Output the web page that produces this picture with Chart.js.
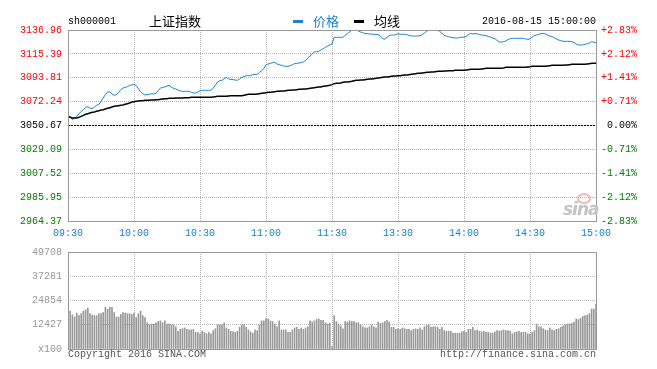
<!DOCTYPE html>
<html>
<head>
<meta charset="utf-8">
<script src="https://cdn.jsdelivr.net/npm/chart.js@4.4.0/dist/chart.umd.min.js"></script>
<style>
    body { margin: 0; background: #fff; width: 657px; height: 369px; position: relative; overflow: hidden; font-family: 'Liberation Mono', 'DejaVu Sans Mono', monospace; }
    canvas { position: absolute; left: 0; }
    #priceChart { top: 0; }
    #volChart { top: 240px; }
    .t { position: absolute; white-space: nowrap; font-size: 10px; line-height: 10px; }
    .cjk { position: absolute; white-space: nowrap; font-family: 'Noto Sans CJK SC', sans-serif; font-size: 13px; line-height: 13px; }
    .dash { position: absolute; width: 10px; height: 3px; }
</style>
</head>
<body>
<canvas id="priceChart" width="657" height="240"></canvas>
<canvas id="volChart" width="657" height="129"></canvas>

<div class="t" style="left:68px;top:17px;color:#000">sh000001</div>
<div class="cjk" style="left:149px;top:14px;color:#000">上证指数</div>
<div class="dash" style="left:293px;top:20px;background:#1c84d0"></div>
<div class="cjk" style="left:313px;top:14px;color:#1c84d0">价格</div>
<div class="dash" style="left:354px;top:20px;background:#000"></div>
<div class="cjk" style="left:374px;top:14px;color:#000">均线</div>
<div class="t" style="right:61px;top:17px;color:#000">2016-08-15 15:00:00</div>
<div class="t" style="left:68px;top:350px;color:#555">Copyright 2016 SINA.COM</div>
<div class="t" style="right:61px;top:350px;color:#555">http://finance.sina.com.cn</div>
<div style="position:absolute;left:577px;top:193px;width:10px;height:7px;border:2px solid #f4b8b8;border-radius:50%"></div>
<div style="position:absolute;left:563px;top:199px;font:italic bold 17px 'DejaVu Sans',sans-serif;color:#c4c4c4;letter-spacing:-1px">sina</div>

<script>
// tick values (ascending)
const priceTicks = [2964.37, 2985.95, 3007.52, 3029.09, 3050.67, 3072.24, 3093.81, 3115.39, 3136.96];
const pctTicks = ['-2.83%', '-2.12%', '-1.41%', '-0.71%', '0.00%', '+0.71%', '+1.41%', '+2.12%', '+2.83%'];
const timeLabels = ['09:30', '10:00', '10:30', '11:00', '11:30', '13:30', '14:00', '14:30', '15:00'];
const volTicks = [0, 12427, 24854, 37281, 49708];
const volLabels = ['x100', '12427', '24854', '37281', '49708'];
const prevClose = 3050.67;

// one value per minute, 09:30..11:30 then 13:01..15:00
const priceLine = [
    3058.95, 3058.95, 3055.94, 3057.45, 3058.95, 3061.06, 3063.47, 3064.98, 3067.08, 3067.69,
    3066.18, 3066.18, 3067.08, 3069.19, 3069.49, 3072.51, 3075.52, 3078.53, 3080.94, 3080.94,
    3079.13, 3077.93, 3078.53, 3080.64, 3083.05, 3084.55, 3085.16, 3085.76, 3086.96, 3087.26,
    3087.87, 3086.66, 3083.95, 3080.94, 3079.43, 3078.23, 3078.53, 3078.83, 3079.43, 3079.13,
    3079.73, 3082.14, 3084.55, 3085.16, 3085.46, 3086.36, 3086.96, 3085.16, 3084.25, 3083.65,
    3082.75, 3082.14, 3081.24, 3081.54, 3081.54, 3081.54, 3080.64, 3080.04, 3080.04, 3080.94,
    3082.14, 3082.45, 3082.45, 3082.45, 3082.45, 3082.45, 3084.55, 3086.96, 3089.98, 3091.18,
    3091.48, 3092.99, 3094.19, 3092.69, 3092.39, 3092.08, 3091.78, 3091.48, 3092.69, 3094.19,
    3094.79, 3095.70, 3095.70, 3095.70, 3096.60, 3096.90, 3096.90, 3098.41, 3100.22, 3102.02,
    3105.64, 3106.24, 3106.84, 3107.45, 3107.75, 3106.24, 3105.64, 3105.04, 3104.43, 3104.13,
    3104.13, 3104.73, 3105.64, 3106.54, 3106.84, 3107.14, 3107.45, 3108.05, 3109.55, 3111.66,
    3113.47, 3115.58, 3117.08, 3117.38, 3117.69, 3118.89, 3120.10, 3121.30, 3122.51, 3123.41,
    3124.31, 3130.34, 3130.34, 3130.34, 3130.34, 3130.34, 3132.14, 3133.65, 3135.16, 3136.66,
    3136.96, 3136.96, 3136.06, 3135.16, 3134.55, 3133.65, 3133.65, 3133.35, 3133.35, 3133.05,
    3133.05, 3132.75, 3131.54, 3129.13, 3128.53, 3130.34, 3131.84, 3132.44, 3132.44, 3132.75,
    3133.65, 3133.05, 3133.05, 3133.05, 3132.75, 3132.14, 3131.54, 3131.54, 3131.54, 3131.54,
    3131.84, 3132.75, 3134.25, 3135.76, 3136.66, 3136.66, 3136.66, 3136.66, 3136.66, 3135.76,
    3133.95, 3132.14, 3131.54, 3130.94, 3130.34, 3130.04, 3129.73, 3129.73, 3130.34, 3130.34,
    3130.50, 3131.24, 3132.75, 3133.95, 3133.35, 3133.65, 3133.65, 3132.75, 3132.44, 3132.14,
    3131.84, 3131.24, 3130.64, 3129.73, 3129.13, 3127.63, 3126.12, 3126.12, 3126.42, 3127.02,
    3128.23, 3129.13, 3129.43, 3129.43, 3129.43, 3129.43, 3129.43, 3129.43, 3128.83, 3128.53,
    3128.83, 3130.64, 3131.84, 3132.44, 3133.05, 3133.65, 3133.95, 3133.35, 3132.44, 3131.54,
    3130.94, 3130.04, 3128.83, 3127.93, 3127.32, 3126.72, 3126.72, 3126.72, 3126.72, 3126.42,
    3125.82, 3124.31, 3123.41, 3123.41, 3123.41, 3124.01, 3124.61, 3125.22, 3126.42, 3125.82,
    3125.82
];

const avgLine = [
    3058.05, 3058.05, 3057.45, 3057.45, 3057.45, 3058.05, 3058.95, 3059.86, 3060.76, 3061.36,
    3061.96, 3062.57, 3062.87, 3063.47, 3064.07, 3064.67, 3064.98, 3065.58, 3066.18, 3066.78,
    3067.39, 3067.99, 3068.29, 3068.59, 3068.89, 3069.19, 3069.80, 3070.40, 3071.00, 3071.90,
    3072.20, 3072.51, 3072.81, 3073.11, 3073.11, 3073.41, 3073.41, 3073.41, 3073.71, 3073.71,
    3074.01, 3074.01, 3074.31, 3074.61, 3074.92, 3074.92, 3075.22, 3075.22, 3075.22, 3075.52,
    3075.52, 3075.52, 3075.52, 3075.82, 3075.82, 3075.82, 3076.12, 3076.12, 3076.12, 3076.12,
    3076.12, 3076.12, 3076.12, 3076.12, 3076.12, 3076.12, 3076.42, 3076.72, 3077.02, 3077.02,
    3077.02, 3077.02, 3077.02, 3077.33, 3077.63, 3077.63, 3077.63, 3077.63, 3077.63, 3077.63,
    3077.93, 3078.53, 3078.83, 3078.83, 3078.83, 3078.83, 3079.13, 3079.43, 3079.73, 3080.04,
    3080.34, 3080.64, 3080.64, 3080.94, 3081.24, 3081.54, 3081.54, 3081.84, 3081.84, 3082.14,
    3082.45, 3082.45, 3082.75, 3082.75, 3083.05, 3083.35, 3083.35, 3083.65, 3083.65, 3083.95,
    3084.25, 3084.55, 3084.86, 3085.16, 3085.46, 3085.46, 3086.06, 3086.36, 3086.66, 3086.96,
    3087.57, 3088.47, 3088.77, 3088.77, 3089.07, 3089.67, 3089.98, 3089.98, 3090.28, 3090.58,
    3091.18, 3091.48, 3091.48, 3091.78, 3091.78, 3092.08, 3092.39, 3092.69, 3092.69, 3092.99,
    3093.29, 3093.59, 3093.89, 3094.19, 3094.49, 3094.49, 3094.79, 3095.10, 3095.40, 3095.40,
    3095.70, 3095.70, 3096.00, 3096.30, 3096.30, 3096.60, 3096.90, 3097.20, 3097.51, 3097.81,
    3097.81, 3098.11, 3098.41, 3098.71, 3098.71, 3099.01, 3099.01, 3099.31, 3099.61, 3099.61,
    3099.61, 3099.92, 3099.92, 3100.22, 3100.22, 3100.22, 3100.52, 3100.52, 3100.52, 3100.52,
    3100.52, 3100.82, 3101.12, 3101.42, 3101.42, 3101.42, 3101.42, 3101.42, 3101.72, 3102.02,
    3102.32, 3102.32, 3102.32, 3102.32, 3102.32, 3102.32, 3102.32, 3102.32, 3102.63, 3103.23,
    3103.23, 3103.23, 3103.23, 3103.23, 3103.23, 3103.23, 3103.23, 3103.23, 3103.23, 3103.53,
    3103.83, 3104.13, 3104.13, 3104.13, 3104.13, 3104.13, 3104.13, 3104.13, 3104.43, 3104.73,
    3105.04, 3105.04, 3105.04, 3105.04, 3105.04, 3105.04, 3105.34, 3105.34, 3105.64, 3105.94,
    3105.94, 3105.94, 3105.94, 3105.94, 3105.94, 3105.94, 3106.24, 3106.54, 3106.84, 3106.84,
    3106.84
];

// volume, in lots of 100
const volumes = [
    34800,
    19400, 17400, 16400, 18400, 17100, 18100, 19400, 20000, 21000, 18100,
    17400, 17100, 17100, 18100, 18100, 18700, 21400, 20400, 21400, 21400,
    18700, 16400, 16400, 17700, 18700, 18400, 18100, 18100, 17700, 18100,
    16100, 18100, 19400, 17100, 16100, 13400, 12400, 12800, 12800, 13400,
    14100, 14400, 13400, 14400, 12800, 12800, 12400, 12400, 11400, 9100,
    10100, 10400, 10800, 10100, 9800, 9800, 10100, 8500, 8500, 7800,
    9100, 8500, 7800, 8500, 7800, 9400, 10400, 12400, 12400, 12400,
    13400, 10800, 10100, 9100, 8800, 8500, 9100, 11100, 12400, 12400,
    11100, 9800, 8800, 8100, 9800, 9400, 12400, 14400, 14400, 15700,
    15400, 14400, 14100, 12800, 11400, 14400, 9800, 9800, 9800, 8500,
    8500, 9800, 10800, 11100, 10100, 10800, 10100, 10800, 11400, 14400,
    13800, 14400, 15100, 15400, 14700, 14700, 13400, 12800, 13100,
    1200,
    17100, 14100, 12800, 11800, 10400, 14100, 13800, 14400, 14100, 14100,
    13400, 13400, 12400, 11400, 10800, 10800, 11400, 12400, 11400, 10800,
    13800, 13100, 13400, 14100, 14700, 13800, 11100, 11100, 10100, 10400,
    10100, 10800, 10400, 10100, 10100, 9400, 10100, 10400, 10100, 10800,
    9800, 11400, 12100, 12400, 11100, 11400, 11400, 11100, 10100, 11100,
    9400, 9100, 9100, 9100, 8100, 8100, 8100, 8100, 8800, 9100,
    8500, 10100, 10100, 11100, 9400, 9800, 9100, 8800, 9100, 8500,
    8500, 8100, 8100, 8800, 9400, 9100, 9400, 9800, 9400, 9400,
    9100, 7800, 8500, 8800, 9100, 8500, 8500, 8500, 7800, 7500,
    8500, 9400, 12800, 11400, 11400, 10400, 9800, 9400, 10800, 9800,
    9400, 10100, 10400, 11100, 11800, 12400, 12800, 12800, 13100, 13800,
    15400, 15100, 15700, 16700, 17100, 17400, 18100, 20400, 20400, 23000
];

const monoFont = { family: "'Liberation Mono', 'DejaVu Sans Mono', monospace", size: 10 };
const gridGray = '#b4b4b4';
const toPoints = arr => arr.map((v, i) => ({ x: i, y: v }));

// gray frame around the plot area
const framePlugin = {
    id: 'frame',
    afterDraw(chart) {
        const a = chart.chartArea;
        const ctx = chart.ctx;
        ctx.save();
        ctx.strokeStyle = '#999';
        ctx.lineWidth = 1;
        ctx.strokeRect(a.left + 0.5, a.top + 0.5, a.right - a.left, a.bottom - a.top);
        ctx.restore();
    }
};

function timeAxis(showLabels) {
    return {
        type: 'linear', min: 0, max: 240, offset: false,
        afterBuildTicks: s => { s.ticks = timeLabels.map((_, k) => ({ value: k * 30 })); },
        afterFit: s => { s.height = showLabels ? 19 : 0; },
        ticks: { display: showLabels, autoSkip: false, maxRotation: 0, padding: 6, color: '#1a7fd0', font: monoFont,
                 callback: (v, k) => timeLabels[k] },
        grid: { color: gridGray, drawTicks: false, offset: false },
        border: { display: false, dash: [1, 1] }
    };
}

new Chart(document.getElementById('priceChart'), {
    type: 'line',
    data: {
        datasets: [
            { label: '均线', data: toPoints(avgLine), borderColor: '#000', borderWidth: 1.5, pointRadius: 0, tension: 0, yAxisID: 'y' },
            { label: '价格', data: toPoints(priceLine), borderColor: '#1c84d0', borderWidth: 1, pointRadius: 0, tension: 0, yAxisID: 'y' },
            { label: 'prev', data: [{ x: 0, y: prevClose }, { x: 240, y: prevClose }], borderColor: '#000', borderWidth: 1,
              borderDash: [2, 1], pointRadius: 0, yAxisID: 'y' }
        ]
    },
    options: {
        responsive: false,
        animation: false,
        layout: { padding: { top: 30, right: 20, bottom: 0, left: 0 } },
        plugins: { legend: { display: false }, tooltip: { enabled: false } },
        scales: {
            x: timeAxis(true),
            y: {
                position: 'left', min: priceTicks[0], max: priceTicks[8],
                afterBuildTicks: s => { s.ticks = priceTicks.map(v => ({ value: v })); },
                afterFit: s => { s.width = 68; },
                ticks: {
                    padding: 6, font: monoFont,
                    color: c => c.index < 4 ? '#008000' : (c.index === 4 ? '#000' : '#f00'),
                    callback: (v, k) => priceTicks[k].toFixed(2)
                },
                grid: { color: gridGray, drawTicks: false },
                border: { display: false, dash: [1, 1] }
            },
            yr: {
                position: 'right', min: priceTicks[0], max: priceTicks[8],
                afterBuildTicks: s => { s.ticks = priceTicks.map(v => ({ value: v })); },
                afterFit: s => { s.width = 41; },
                ticks: {
                    padding: 5, font: monoFont, crossAlign: 'far',
                    color: c => c.index < 4 ? '#008000' : (c.index === 4 ? '#000' : '#f00'),
                    callback: (v, k) => pctTicks[k]
                },
                grid: { drawOnChartArea: false, drawTicks: false },
                border: { display: false }
            }
        }
    },
    plugins: [framePlugin]
});

new Chart(document.getElementById('volChart'), {
    type: 'bar',
    data: {
        datasets: [{ label: 'volume', data: toPoints(volumes), backgroundColor: '#999', barThickness: 1, grouped: false }]
    },
    options: {
        responsive: false,
        animation: false,
        layout: { padding: { top: 9, right: 61, bottom: 20, left: 0 } },
        plugins: { legend: { display: false }, tooltip: { enabled: false } },
        scales: {
            x: timeAxis(false),
            y: {
                min: 0, max: volTicks[4],
                afterBuildTicks: s => { s.ticks = volTicks.map(v => ({ value: v })); },
                afterFit: s => { s.width = 68; },
                ticks: { padding: 6, font: monoFont, color: '#999', callback: (v, k) => volLabels[k] },
                grid: { color: gridGray, drawTicks: false },
                border: { display: false, dash: [1, 1] }
            }
        }
    },
    plugins: [framePlugin]
});
</script>
</body>
</html>
